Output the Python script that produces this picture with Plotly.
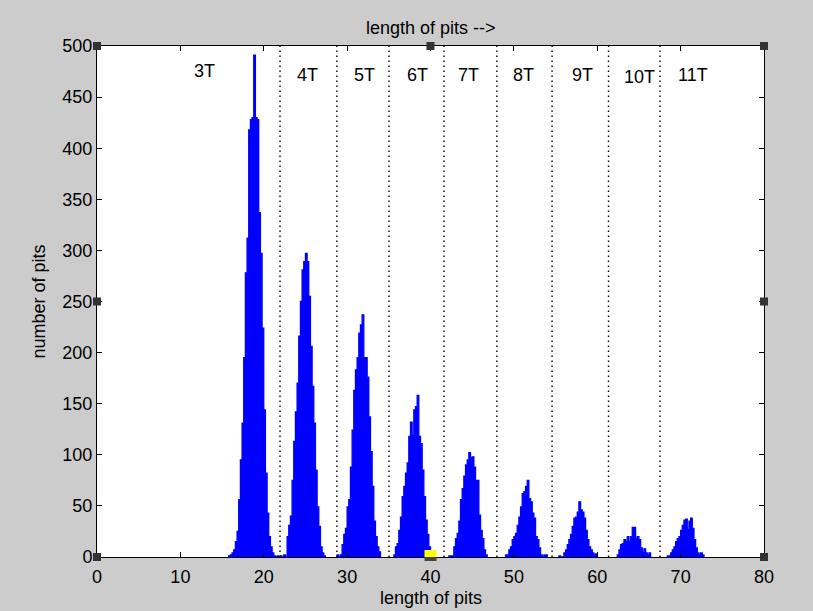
import plotly.graph_objects as go

# ---------------- data (histogram counts, bin width 0.2) ----------------
bin_width = 0.2
peak_starts = [15.9, 22.5, 28.9, 35.7, 42.3, 49.1, 55.5, 62.5, 68.5]
counts_3T = [1, 2, 4, 7, 15, 25, 56, 95, 131, 195, 278, 312, 418, 428, 430, 491,
             430, 428, 337, 297, 224, 144, 82, 43, 20, 10, 4, 1, 0, 1, 0, 1]
counts_4T = [2, 0, 20, 31, 40, 75, 113, 142, 170, 216, 250, 281, 289, 297, 289,
             255, 206, 167, 131, 85, 49, 30, 10, 4, 1]
counts_5T = [2, 0, 2, 12, 22, 28, 49, 56, 88, 124, 163, 183, 195, 219, 227, 237,
             195, 195, 176, 137, 103, 69, 35, 20, 10, 5]
counts_6T = [2, 10, 13, 26, 39, 59, 69, 82, 92, 118, 132, 119, 144, 147, 158,
             118, 111, 85, 59, 36, 22, 10, 5, 2]
counts_7T = [1, 1, 1, 10, 18, 23, 35, 56, 67, 79, 90, 95, 102, 97, 98, 88, 75,
             75, 41, 26, 18, 7, 2]
counts_8T = [2, 2, 7, 10, 17, 20, 23, 31, 39, 49, 62, 64, 69, 75, 57, 54, 43, 38,
             20, 17, 9, 2, 0, 2, 2]
counts_9T = [1, 0, 0, 4, 7, 12, 17, 22, 30, 38, 39, 44, 54, 46, 44, 38, 26, 17,
             10, 7, 4, 2, 3]
counts_10T = [2, 7, 12, 13, 17, 15, 20, 15, 20, 29, 29, 18, 20, 17, 9, 4, 8, 4, 2, 4]
counts_11T = [1, 1, 4, 7, 10, 15, 18, 20, 26, 31, 36, 37, 27, 35, 38, 28, 17, 9,
              4, 2, 4, 2]
all_counts = [counts_3T, counts_4T, counts_5T, counts_6T, counts_7T,
              counts_8T, counts_9T, counts_10T, counts_11T]

# boundaries between run lengths (dotted lines)
boundaries = [21.95, 28.77, 35.02, 41.62, 47.96, 54.58, 61.35, 67.53]
run_labels = ["3T", "4T", "5T", "6T", "7T", "8T", "9T", "10T", "11T"]
x_ticks = [0, 10, 20, 30, 40, 50, 60, 70, 80]
y_ticks = [0, 50, 100, 150, 200, 250, 300, 350, 400, 450, 500]

fig = go.Figure()

# histogram drawn as filled step outlines (one per run-length group)
for start, counts in zip(peak_starts, all_counts):
    edges = [round(start - bin_width / 2 + bin_width * i, 3) for i in range(len(counts) + 1)]
    xs = [edges[0]] + edges
    ys = [0] + list(counts) + [counts[-1]]
    xs.append(edges[-1])
    ys.append(0)
    fig.add_trace(go.Scatter(x=xs, y=ys, mode="lines", line_shape="hv",
                             line=dict(color="#0000ff", width=1.3),
                             fill="tozeroy", fillcolor="#0000ff",
                             hoverinfo="skip", showlegend=False))

FONT = "Liberation Sans, Arial, sans-serif"
FS = 18

shapes = []
for b in boundaries:
    shapes.append(dict(type="line", xref="x", yref="y", x0=b, x1=b, y0=0, y1=500,
                       line=dict(color="black", width=1.4, dash="1.5px,3.5px"),
                       layer="above"))

# selection handles (MATLAB edit mode)
def handle(px, py, color="#333333"):
    return dict(type="rect", xref="paper", yref="paper",
                xsizemode="pixel", ysizemode="pixel",
                xanchor=px, yanchor=py, x0=-4, x1=4, y0=-4, y1=4,
                fillcolor=color, line=dict(width=0), layer="above")

for (px, py) in [(0, 0), (0, 0.5), (0, 1), (0.5, 1), (1, 1), (1, 0.5), (1, 0)]:
    shapes.append(handle(px, py))
shapes.append(dict(type="rect", xref="x", yref="paper", xsizemode="pixel",
                   ysizemode="pixel", xanchor=40, yanchor=0, x0=-6, x1=6, y0=0, y1=7,
                   fillcolor="#ffff00", line=dict(width=0), layer="above"))
shapes.append(dict(type="rect", xref="x", yref="paper", xsizemode="pixel",
                   ysizemode="pixel", xanchor=40, yanchor=0, x0=-6, x1=6, y0=-4, y1=0,
                   fillcolor="#444444", line=dict(width=0), layer="above"))

label_x = [12.95, 25.3, 32.1, 38.5, 44.5, 51.1, 58.2, 65.1, 71.5]
label_y = [476, 472, 472, 472, 472, 472, 472, 470, 472]
annotations = []
for t, lx, ly in zip(run_labels, label_x, label_y):
    annotations.append(dict(x=lx, y=ly, xref="x", yref="y", text=t, showarrow=False,
                            xanchor="center", yanchor="middle",
                            font=dict(family=FONT, size=FS, color="black")))

annotations.append(dict(x=0.5, y=1, xref="paper", yref="paper", yshift=18,
                        xanchor="center", yanchor="middle",
                        text="length of pits -->", showarrow=False,
                        font=dict(family=FONT, size=FS, color="black")))
annotations.append(dict(x=0.5, y=0, xref="paper", yref="paper", yshift=-41,
                        xanchor="center", yanchor="middle",
                        text="length of pits", showarrow=False,
                        font=dict(family=FONT, size=FS, color="black")))
annotations.append(dict(x=0, y=0.5, xref="paper", yref="paper", xshift=-59,
                        xanchor="center", yanchor="middle",
                        text="number of pits", textangle=-90, showarrow=False,
                        font=dict(family=FONT, size=FS, color="black")))

axis_common = dict(showline=True, linecolor="black", linewidth=1, mirror="ticks",
                   ticks="inside", ticklen=5, tickcolor="black", tickwidth=1,
                   showgrid=False, zeroline=False,
                   tickfont=dict(family=FONT, size=FS, color="black"))

fig.update_layout(
    width=813, height=611,
    margin=dict(l=97, r=49, t=46, b=54),
    paper_bgcolor="#cccccc", plot_bgcolor="white",
    xaxis=dict(range=[0, 80], tickvals=x_ticks, ticklabelstandoff=3, **axis_common),
    yaxis=dict(range=[0, 500], tickvals=y_ticks, **axis_common),
    shapes=shapes, annotations=annotations,
)

fig.write_html("out.html")
